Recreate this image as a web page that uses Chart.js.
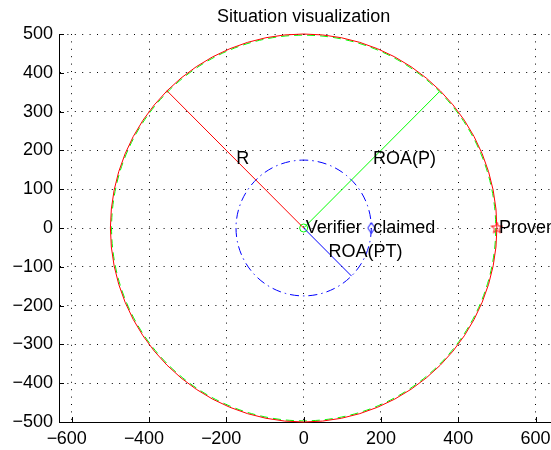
<!DOCTYPE html>
<html>
<head>
<meta charset="utf-8">
<script src="https://cdn.jsdelivr.net/npm/chart.js@4"></script>
<style>
  html, body { margin: 0; padding: 0; background: #fff; }
</style>
</head>
<body>
<canvas id="myChart" width="551" height="450"></canvas>
<script>
// 데이터
const lineNames = ['R', 'ROA(P)', 'ROA(PT)'];
const lineEndX = [-354, 351, 124];
const lineEndY = [354, 351, -124];
const lineLabelX = [-177, 177, 62];
const lineLabelY = [177, 177, -62];
const pointNames = ['Verifier', 'claimed', 'Prover'];
const pointX = [0, 175, 500];
const pointY = [0, 0, 0];
const circleRadii = [497, 500, 175]; // ROA(P), R, ROA(PT)
const xTicks = [-600, -400, -200, 0, 200, 400, 600];
const yTicks = [-500, -400, -300, -200, -100, 0, 100, 200, 300, 400, 500];

const FONT = '"Liberation Sans", Arial, Helvetica, sans-serif';
const lineColors = ['#ff0000', '#00ff00', '#0000ff'];

// 마커 이미지
function makeStar(color) {
    const c = document.createElement('canvas');
    c.width = 13; c.height = 13;
    const g = c.getContext('2d');
    g.strokeStyle = color;
    g.lineWidth = 1;
    g.beginPath();
    for (let i = 0; i < 10; i++) {
        const r = i % 2 === 0 ? 6 : 2.4;
        const a = -Math.PI / 2 + i * Math.PI / 5;
        const px = 6.5 + r * Math.cos(a), py = 6.5 + r * Math.sin(a);
        if (i === 0) g.moveTo(px, py); else g.lineTo(px, py);
    }
    g.closePath();
    g.stroke();
    return c;
}
function makeDiamond(color) {
    const c = document.createElement('canvas');
    c.width = 9; c.height = 13;
    const g = c.getContext('2d');
    g.strokeStyle = color;
    g.lineWidth = 1;
    g.beginPath();
    g.moveTo(4.5, 1); g.lineTo(8, 6.5); g.lineTo(4.5, 12); g.lineTo(1, 6.5);
    g.closePath();
    g.stroke();
    return c;
}

const datasets = [];
lineNames.forEach((name, i) => {
    datasets.push({
        label: name,
        data: [{x: 0, y: 0}, {x: lineEndX[i], y: lineEndY[i]}],
        showLine: true,
        borderColor: lineColors[i],
        borderWidth: 1,
        pointRadius: 0
    });
});
const pointStyles = ['circle', makeDiamond('#0000ff'), makeStar('#ff0000')];
const pointColors = ['#00ff00', '#0000ff', '#ff0000'];
const pointSizes = [4, 5, 6];
pointNames.forEach((name, i) => {
    datasets.push({
        label: name,
        data: [{x: pointX[i], y: pointY[i]}],
        showLine: false,
        pointStyle: pointStyles[i],
        pointRadius: pointSizes[i],
        borderColor: pointColors[i],
        backgroundColor: 'rgba(0,0,0,0)',
        borderWidth: 1
    });
});

// 플롯 영역 고정
const fixArea = {
    id: 'fixArea',
    afterLayout(chart) {
        const a = chart.chartArea, x = chart.scales.x, y = chart.scales.y;
        a.left = 59; a.right = 551; a.top = 34; a.bottom = 422;
        a.width = a.right - a.left; a.height = a.bottom - a.top;
        x.left = a.left; x.right = a.right; x.width = a.width;
        x.top = a.bottom; x.bottom = 450; x.height = 28;
        y.left = 0; y.right = a.left; y.width = a.left;
        y.top = a.top; y.bottom = a.bottom; y.height = a.height;
        x.configure(); y.configure();
    }
};

// 원, 텍스트, 안쪽 눈금
const overlay = {
    id: 'overlay',
    beforeDatasetsDraw(chart) {
        const {ctx, scales: {x, y}} = chart;
        const cx = x.getPixelForValue(0), cy = y.getPixelForValue(0);
        const styles = [
            {color: '#00ff00', dash: [8, 5]},
            {color: '#ff0000', dash: []},
            {color: '#0000ff', dash: [9, 4, 1.5, 4]}
        ];
        circleRadii.forEach((r, i) => {
            const rx = Math.abs(x.getPixelForValue(r) - cx);
            const ry = Math.abs(y.getPixelForValue(r) - cy);
            ctx.save();
            ctx.strokeStyle = styles[i].color;
            ctx.lineWidth = 1;
            ctx.setLineDash(styles[i].dash);
            ctx.beginPath();
            ctx.ellipse(cx, cy, rx, ry, 0, 0, Math.PI * 2);
            ctx.stroke();
            ctx.restore();
        });
    },
    afterDraw(chart) {
        const {ctx, chartArea, scales: {x, y}} = chart;
        ctx.save();
        ctx.fillStyle = '#000';
        ctx.font = '18px ' + FONT;
        ctx.textAlign = 'left';
        ctx.textBaseline = 'middle';
        lineNames.forEach((name, i) => {
            ctx.fillText(name, x.getPixelForValue(lineLabelX[i]) + 1, y.getPixelForValue(lineLabelY[i]));
        });
        pointNames.forEach((name, i) => {
            ctx.fillText(name, x.getPixelForValue(pointX[i]) + 2, y.getPixelForValue(pointY[i]));
        });
        // x축 눈금 라벨: 숫자 부분을 눈금 가운데에, 마이너스는 왼쪽에
        x.ticks.forEach(t => {
            const px = x.getPixelForValue(t.value);
            const num = String(Math.abs(t.value));
            ctx.textAlign = 'center';
            ctx.fillText(num, px, 439);
            if (t.value < 0) {
                const w = ctx.measureText(num).width;
                ctx.textAlign = 'right';
                ctx.fillText('\u2212', px - w / 2 + 0.5, 439);
            }
        });
        // 제목
        ctx.textAlign = 'center';
        ctx.textBaseline = 'alphabetic';
        ctx.fillText('Situation visualization', x.getPixelForValue(0), 22);
        // 안쪽 눈금
        ctx.strokeStyle = '#000';
        ctx.lineWidth = 1;
        ctx.beginPath();
        x.ticks.forEach(t => {
            const px = Math.round(x.getPixelForValue(t.value)) + 0.5;
            ctx.moveTo(px, chartArea.bottom);
            ctx.lineTo(px, chartArea.bottom - 5);
        });
        y.ticks.forEach(t => {
            const py = Math.round(y.getPixelForValue(t.value)) + 0.5;
            ctx.moveTo(chartArea.left, py);
            ctx.lineTo(chartArea.left + 5, py);
        });
        ctx.stroke();
        ctx.restore();
    }
};

const fmt = v => v < 0 ? '\u2212' + Math.abs(v) : String(v);

const ctx = document.getElementById('myChart').getContext('2d');
const myChart = new Chart(ctx, {
    type: 'scatter',
    data: { datasets: datasets },
    options: {
        responsive: false,
        animation: false,
        layout: { padding: { top: 34, left: 0, right: 0, bottom: 0 } },
        scales: {
            x: {
                type: 'linear',
                min: -633,
                max: 640,
                afterBuildTicks: s => { s.ticks = xTicks.map(v => ({value: v})); },
                afterFit: s => { s.height = 28; s.paddingLeft = 0; s.paddingRight = 0; },
                ticks: { display: false },
                grid: { color: '#000', drawTicks: false },
                border: { display: true, color: '#000', width: 1, dash: [1, 6.4] }
            },
            y: {
                type: 'linear',
                min: -500,
                max: 500,
                afterBuildTicks: s => { s.ticks = yTicks.map(v => ({value: v})); },
                afterFit: s => { s.width = 59; s.paddingTop = 0; s.paddingBottom = 0; },
                ticks: {
                    autoSkip: false, padding: 6, color: '#000',
                    font: { family: FONT, size: 18 },
                    callback: fmt
                },
                grid: { color: '#000', drawTicks: false },
                border: { display: true, color: '#000', width: 1, dash: [1, 6.4] }
            }
        },
        plugins: {
            legend: { display: false },
            title: { display: false },
            tooltip: { enabled: false }
        }
    },
    plugins: [fixArea, overlay]
});
</script>
</body>
</html>
